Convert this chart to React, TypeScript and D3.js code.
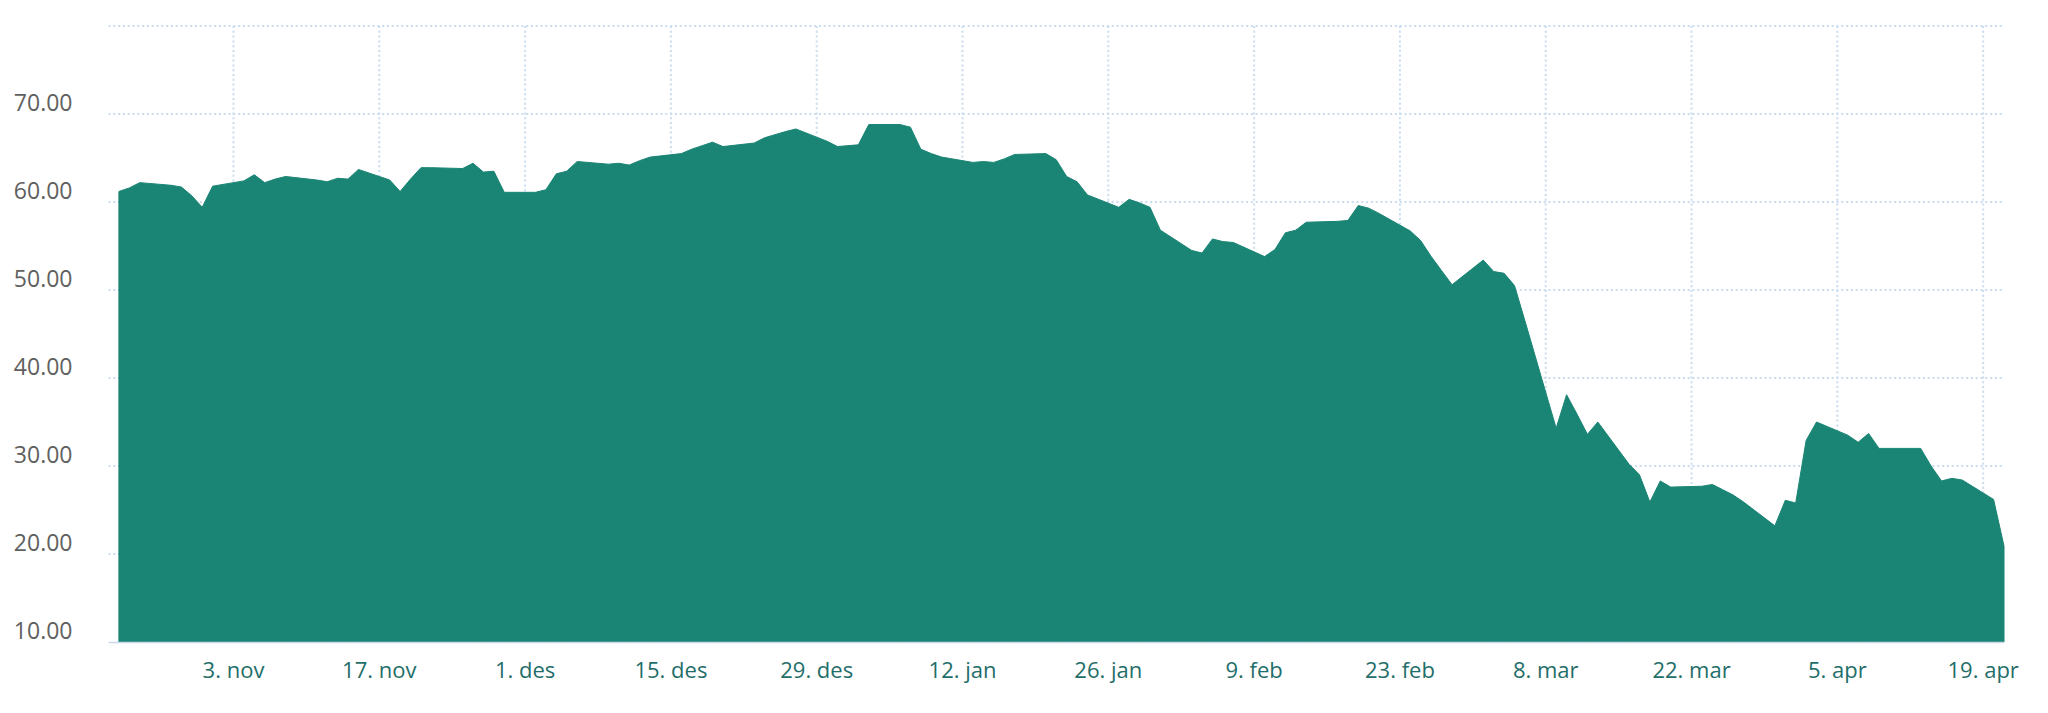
import { useEffect, useRef } from 'react'
import * as d3 from 'd3'

// Handelsdager (okt 2019 - apr 2020)
const tradingDays = [
  '2019-10-23', '2019-10-24', '2019-10-25', '2019-10-28', '2019-10-29', '2019-10-30', '2019-10-31',
  '2019-11-01', '2019-11-04', '2019-11-05', '2019-11-06', '2019-11-07', '2019-11-08', '2019-11-11',
  '2019-11-12', '2019-11-13', '2019-11-14', '2019-11-15', '2019-11-18', '2019-11-19', '2019-11-20',
  '2019-11-21', '2019-11-22', '2019-11-25', '2019-11-26', '2019-11-27', '2019-11-28', '2019-11-29',
  '2019-12-02', '2019-12-03', '2019-12-04', '2019-12-05', '2019-12-06', '2019-12-09', '2019-12-10',
  '2019-12-11', '2019-12-12', '2019-12-13', '2019-12-16', '2019-12-17', '2019-12-18', '2019-12-19',
  '2019-12-20', '2019-12-23', '2019-12-24', '2019-12-26', '2019-12-27', '2019-12-30', '2019-12-31',
  '2020-01-02', '2020-01-03', '2020-01-06', '2020-01-07', '2020-01-08', '2020-01-09', '2020-01-10',
  '2020-01-13', '2020-01-14', '2020-01-15', '2020-01-16', '2020-01-17', '2020-01-20', '2020-01-21',
  '2020-01-22', '2020-01-23', '2020-01-24', '2020-01-27', '2020-01-28', '2020-01-29', '2020-01-30',
  '2020-01-31', '2020-02-03', '2020-02-04', '2020-02-05', '2020-02-06', '2020-02-07', '2020-02-10',
  '2020-02-11', '2020-02-12', '2020-02-13', '2020-02-14', '2020-02-17', '2020-02-18', '2020-02-19',
  '2020-02-20', '2020-02-21', '2020-02-24', '2020-02-25', '2020-02-26', '2020-02-27', '2020-02-28',
  '2020-03-02', '2020-03-03', '2020-03-04', '2020-03-05', '2020-03-06', '2020-03-09', '2020-03-10',
  '2020-03-11', '2020-03-12', '2020-03-13', '2020-03-16', '2020-03-17', '2020-03-18', '2020-03-19',
  '2020-03-20', '2020-03-23', '2020-03-24', '2020-03-25', '2020-03-26', '2020-03-27', '2020-03-30',
  '2020-03-31', '2020-04-01', '2020-04-02', '2020-04-03', '2020-04-06', '2020-04-07', '2020-04-08',
  '2020-04-09', '2020-04-13', '2020-04-14', '2020-04-15', '2020-04-16', '2020-04-17', '2020-04-20',
  '2020-04-21',
]

// Sluttkurs per dag
const closes = [
  61.2, 61.6, 62.2, 61.9, 61.7, 60.7, 59.4,
  61.8, 62.4, 63.1, 62.2, 62.6, 62.9, 62.5,
  62.3, 62.7, 62.6, 63.7, 62.5, 61.2, 62.6,
  63.9, 63.9, 63.8, 64.4, 63.4, 63.5, 61.1,
  61.1, 61.4, 63.2, 63.5, 64.6, 64.3, 64.4,
  64.2, 64.7, 65.1, 65.5, 66.0, 66.4, 66.8,
  66.3, 66.7, 67.3, 68.0, 68.3, 66.9, 66.3,
  66.5, 68.8, 68.8, 68.5, 66.0, 65.5, 65.1,
  64.5, 64.6, 64.5, 64.9, 65.4, 65.5, 64.8,
  62.9, 62.3, 60.8, 59.4, 60.3, 59.9, 59.4,
  56.8, 54.5, 54.2, 55.8, 55.5, 55.4, 53.8,
  54.6, 56.5, 56.8, 57.7, 57.8, 57.9, 59.6,
  59.3, 58.7, 56.7, 55.6, 53.8, 52.2, 50.6,
  53.4, 52.1, 51.9, 50.5, 46.5, 34.3, 38.1,
  35.9, 33.6, 35.0, 30.2, 29.0, 25.9, 28.3,
  27.6, 27.7, 27.9, 27.3, 26.7, 25.9, 23.2,
  26.1, 25.8, 32.9, 35.0, 33.5, 32.7, 33.7,
  32.0, 32.0, 30.0, 28.3, 28.6, 28.4, 26.2,
  20.9,
]

const yTicks = [10, 20, 30, 40, 50, 60, 70, 80]
const xTickDays = [
  '2019-11-03', '2019-11-17', '2019-12-01', '2019-12-15', '2019-12-29', '2020-01-12',
  '2020-01-26', '2020-02-09', '2020-02-23', '2020-03-08', '2020-03-22', '2020-04-05', '2020-04-19',
]
const monthNames = ['jan', 'feb', 'mar', 'apr', 'mai', 'jun', 'jul', 'aug', 'sep', 'okt', 'nov', 'des']
const axisStart = '2019-10-22'

export default function App() {
  const svgRef = useRef<SVGSVGElement>(null)

  useEffect(() => {
    if (!svgRef.current) return
    const svg = d3.select(svgRef.current)
    svg.selectAll('*').remove()

    const width = 2048
    const height = 713
    const margin = { top: 26, right: 44, bottom: 71, left: 108.5 }
    const font = '"Open Sans", "Noto Sans", sans-serif'
    const gridColor = '#c9dcf0'

    const parse = d3.timeParse('%Y-%m-%d')
    const points = tradingDays.map((d, i) => ({ date: parse(d) as Date, value: closes[i] }))

    const x = d3.scaleTime()
      .domain([parse(axisStart) as Date, points[points.length - 1].date])
      .range([margin.left, width - margin.right])

    const y = d3.scaleLinear()
      .domain([10, 80])
      .range([height - margin.bottom, margin.top])

    const grid = svg.append('g')

    // Horisontale rutenett
    grid.selectAll('.hgrid')
      .data(yTicks.filter(t => t > 10))
      .enter()
      .append('line')
      .attr('x1', margin.left)
      .attr('x2', width - margin.right)
      .attr('y1', d => y(d))
      .attr('y2', d => y(d))
      .attr('stroke', gridColor)
      .attr('stroke-width', 2)
      .attr('stroke-dasharray', '2,2.8')

    // Vertikale rutenett
    const xTicks = xTickDays.map(d => parse(d) as Date)
    grid.selectAll('.vgrid')
      .data(xTicks)
      .enter()
      .append('line')
      .attr('x1', d => x(d))
      .attr('x2', d => x(d))
      .attr('y1', margin.top)
      .attr('y2', height - margin.bottom)
      .attr('stroke', gridColor)
      .attr('stroke-width', 2)
      .attr('stroke-dasharray', '2,2.8')

    // Areal
    const area = d3.area<{ date: Date; value: number }>()
      .x(d => x(d.date))
      .y0(y(10))
      .y1(d => y(d.value))

    svg.append('path')
      .datum(points)
      .attr('d', area)
      .attr('fill', '#1a8575')
      .attr('stroke', '#1a8575')
      .attr('stroke-width', 1)
      .attr('stroke-linejoin', 'round')

    // X-akse linje
    svg.append('line')
      .attr('x1', margin.left)
      .attr('x2', width - margin.right)
      .attr('y1', y(10) + 0.5)
      .attr('y2', y(10) + 0.5)
      .attr('stroke', '#ccd6eb')
      .attr('stroke-width', 1.5)

    // Y-etiketter
    svg.selectAll('.ylabel')
      .data(yTicks.filter(t => t < 80))
      .enter()
      .append('text')
      .attr('x', 72.5)
      .attr('y', d => y(d) - 3.5)
      .attr('text-anchor', 'end')
      .attr('font-family', font)
      .attr('font-size', 23)
      .attr('fill', '#606060')
      .text(d => d.toFixed(2))

    // X-etiketter
    svg.selectAll('.xlabel')
      .data(xTicks)
      .enter()
      .append('text')
      .attr('x', d => x(d))
      .attr('y', 678)
      .attr('text-anchor', 'middle')
      .attr('font-family', font)
      .attr('font-size', 22)
      .attr('fill', '#1f6e69')
      .text(d => `${d.getDate()}. ${monthNames[d.getMonth()]}`)
  }, [])

  return (
    <>
      <style>{'body{margin:0}'}</style>
      <svg ref={svgRef} width={2048} height={713} style={{ display: 'block', background: '#fff' }} />
    </>
  )
}
